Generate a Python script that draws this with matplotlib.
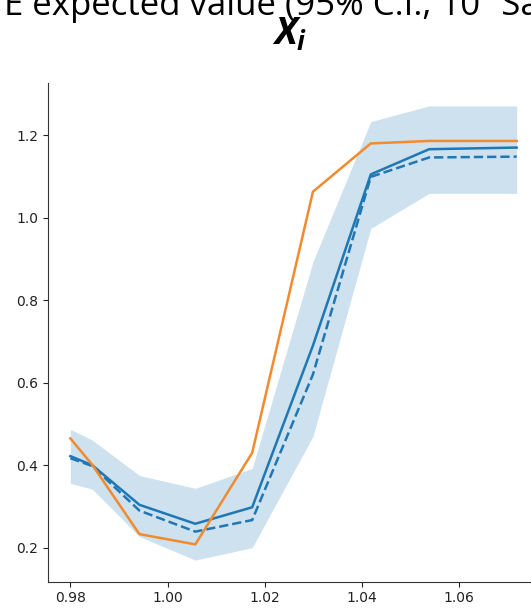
import matplotlib
matplotlib.use("Agg")
import numpy as np
from matplotlib import pyplot as plt

# bin centres and summaries
x_bins = [0.98, 0.9845, 0.9942, 1.0057, 1.0174, 1.0299, 1.0418, 1.0538, 1.0718]
mean_est = [0.422, 0.400, 0.304, 0.258, 0.298, 0.690, 1.105, 1.166, 1.170]
median_est = [0.417, 0.398, 0.290, 0.239, 0.267, 0.620, 1.099, 1.146, 1.148]
ci_low = [0.356, 0.342, 0.227, 0.170, 0.200, 0.470, 0.974, 1.059, 1.059]
ci_high = [0.487, 0.461, 0.375, 0.344, 0.392, 0.893, 1.233, 1.271, 1.271]
truth = [0.465, 0.401, 0.233, 0.208, 0.430, 1.063, 1.180, 1.186, 1.186]

title_line = "E expected value (95% C.I., 10\u00b3 Samples)"
panel_title = r"$X_i$"

plt.rcParams["mathtext.fontset"] = "custom"
plt.rcParams["mathtext.it"] = "Open Sans:italic:bold"
plt.rcParams["mathtext.rm"] = "Open Sans"


def main():
    fig = plt.figure(figsize=(5.31, 6.09), dpi=100)
    ax = fig.add_axes([48 / 531, (609 - 581.7) / 609, (539 - 48) / 531, (581.7 - 83) / 609])

    blue = "#1f77b4"
    ax.fill_between(x_bins, ci_low, ci_high, color=blue, alpha=0.22, lw=0)
    ax.plot(x_bins, mean_est, c=blue, lw=1.8)
    ax.plot(x_bins, median_est, c=blue, lw=1.8, ls="--")
    ax.plot(x_bins, truth, c="#f28a2e", lw=1.8)

    ax.set_xlim(0.9754, 1.0764)
    ax.set_ylim(0.1176, 1.3265)
    ax.set_xticks([0.98, 1.00, 1.02, 1.04, 1.06])
    ax.set_yticks([0.2, 0.4, 0.6, 0.8, 1.0, 1.2])
    ax.tick_params(labelsize=10, colors="#222222")
    for side in ("top", "right"):
        ax.spines[side].set_visible(False)
    for side in ("left", "bottom"):
        ax.spines[side].set_color("#333333")

    fig.text(4 / 531, 1 - 15 / 609, title_line, family="Open Sans", fontsize=25,
             ha="left", va="baseline")
    fig.text(290 / 531, 1 - 45 / 609, panel_title, fontsize=27, ha="center", va="baseline")

    fig.savefig("out.png", dpi=100)


if __name__ == '__main__':
    main()
